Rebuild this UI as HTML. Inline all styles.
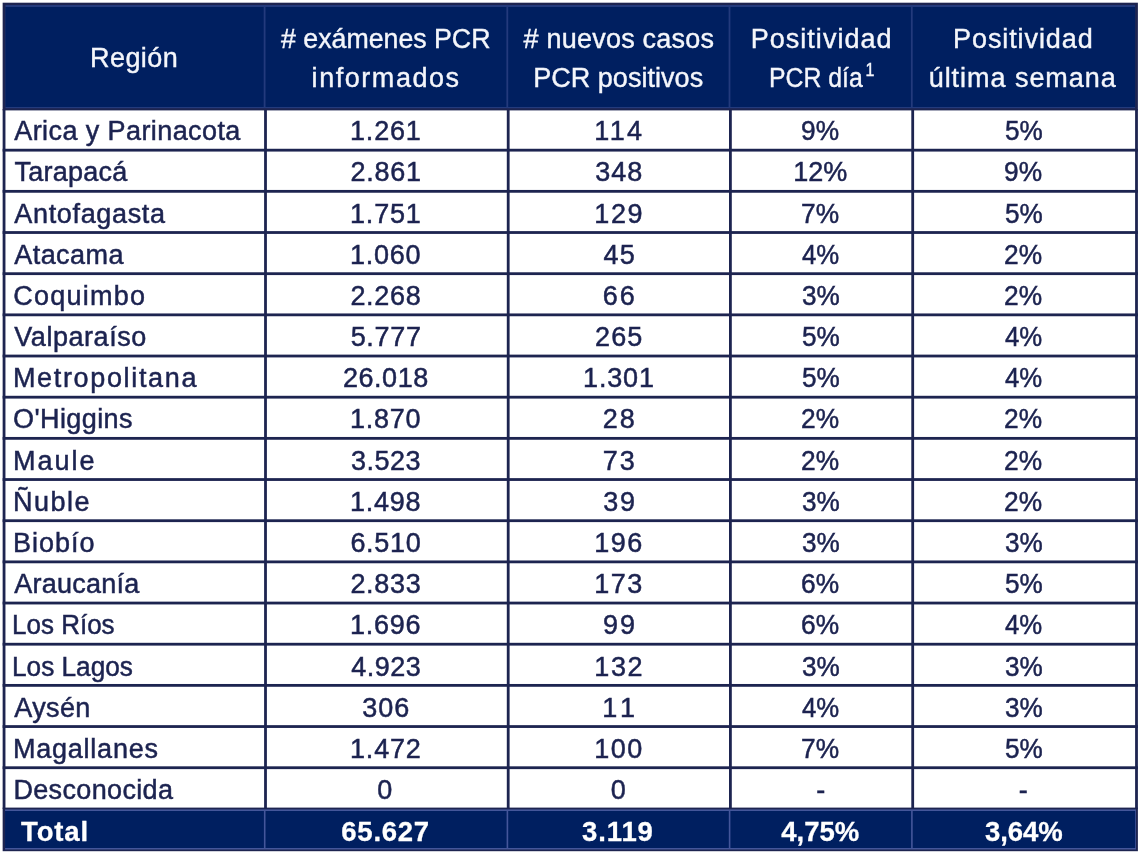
<!DOCTYPE html>
<html lang="es"><head><meta charset="utf-8"><title>Tabla PCR por región</title>
<style>
html,body{margin:0;padding:0;background:#fff;}
body{width:1140px;height:853px;position:relative;overflow:hidden;font-family:"Liberation Sans",sans-serif;}
svg{position:absolute;left:0;top:0;}
.t{position:absolute;white-space:pre;transform-origin:0 0;font-size:27px;line-height:40px;height:40px;color:#1c2350;-webkit-text-stroke:0.5px #1c2350;}
.h{color:#f4f6fb;-webkit-text-stroke:0.4px #f4f6fb;}
.b{font-weight:bold;color:#fff;-webkit-text-stroke:0.3px #fff;font-size:27.5px;}
sup{font-size:17.5px;line-height:0;vertical-align:baseline;position:relative;top:-11.4px;margin-left:3px;letter-spacing:0;}
</style></head><body>
<svg width="1140" height="853" viewBox="0 0 1140 853">
<rect x="2.65" y="2.7" width="1135.25" height="107.70" fill="#1d2450"/>
<rect x="5.45" y="5" width="1129.65" height="103.20" fill="#233a7c"/>
<rect x="5.45" y="7" width="258.25" height="100.00" fill="#001f60"/>
<rect x="265.50" y="7" width="240.90" height="100.00" fill="#001f60"/>
<rect x="508.20" y="7" width="220.40" height="100.00" fill="#001f60"/>
<rect x="730.40" y="7" width="180.50" height="100.00" fill="#001f60"/>
<rect x="912.70" y="7" width="222.40" height="100.00" fill="#001f60"/>
<rect x="2.65" y="807.6" width="1135.25" height="43.60" fill="#1d2450"/>
<rect x="5.05" y="809.4" width="1130.95" height="40.10" fill="#44569a"/>
<rect x="5.05" y="811" width="258.85" height="37" fill="#001f60"/>
<rect x="265.50" y="811" width="241.10" height="37" fill="#001f60"/>
<rect x="508.20" y="811" width="220.60" height="37" fill="#001f60"/>
<rect x="730.40" y="811" width="180.70" height="37" fill="#001f60"/>
<rect x="912.70" y="811" width="222.50" height="37" fill="#001f60"/>
<rect x="2.65" y="109.00" width="2.8" height="699.89" fill="#1d2450"/>
<rect x="264.10" y="109.00" width="2.8" height="699.89" fill="#1d2450"/>
<rect x="506.80" y="109.00" width="2.8" height="699.89" fill="#1d2450"/>
<rect x="729.00" y="109.00" width="2.8" height="699.89" fill="#1d2450"/>
<rect x="911.30" y="109.00" width="2.8" height="699.89" fill="#1d2450"/>
<rect x="1135.10" y="109.00" width="2.8" height="699.89" fill="#1d2450"/>
<rect x="2.65" y="148.77" width="1135.25" height="2.8" fill="#1d2450"/>
<rect x="2.65" y="189.94" width="1135.25" height="2.8" fill="#1d2450"/>
<rect x="2.65" y="231.11" width="1135.25" height="2.8" fill="#1d2450"/>
<rect x="2.65" y="272.28" width="1135.25" height="2.8" fill="#1d2450"/>
<rect x="2.65" y="313.45" width="1135.25" height="2.8" fill="#1d2450"/>
<rect x="2.65" y="354.62" width="1135.25" height="2.8" fill="#1d2450"/>
<rect x="2.65" y="395.79" width="1135.25" height="2.8" fill="#1d2450"/>
<rect x="2.65" y="436.96" width="1135.25" height="2.8" fill="#1d2450"/>
<rect x="2.65" y="478.13" width="1135.25" height="2.8" fill="#1d2450"/>
<rect x="2.65" y="519.30" width="1135.25" height="2.8" fill="#1d2450"/>
<rect x="2.65" y="560.47" width="1135.25" height="2.8" fill="#1d2450"/>
<rect x="2.65" y="601.64" width="1135.25" height="2.8" fill="#1d2450"/>
<rect x="2.65" y="642.81" width="1135.25" height="2.8" fill="#1d2450"/>
<rect x="2.65" y="683.98" width="1135.25" height="2.8" fill="#1d2450"/>
<rect x="2.65" y="725.15" width="1135.25" height="2.8" fill="#1d2450"/>
<rect x="2.65" y="766.32" width="1135.25" height="2.8" fill="#1d2450"/>
</svg>
<div role="table" aria-label="Exámenes PCR y positividad por región">
<!-- header -->
<div role="row">
<div id="h0" role="columnheader" class="t h" style="left:90.05px;top:38px;letter-spacing:0.41px;">Región</div>
<div id="h1a" role="columnheader" class="t h" style="left:281.30px;top:19px;transform:scaleX(0.990);"># exámenes PCR</div>
<div id="h1b" role="columnheader" class="t h" style="left:311.60px;top:58px;letter-spacing:1.55px;">informados</div>
<div id="h2a" role="columnheader" class="t h" style="left:523.45px;top:19px;letter-spacing:0.23px;"># nuevos casos</div>
<div id="h2b" role="columnheader" class="t h" style="left:533.15px;top:58px;letter-spacing:0.04px;">PCR positivos</div>
<div id="h3a" role="columnheader" class="t h" style="left:750.65px;top:19px;letter-spacing:1.04px;">Positividad</div>
<div id="h3b" role="columnheader" class="t h" style="left:768.55px;top:58px;transform:scaleX(0.918);">PCR día<sup>1</sup></div>
<div id="h4a" role="columnheader" class="t h" style="left:953.05px;top:19px;letter-spacing:0.91px;">Positividad</div>
<div id="h4b" role="columnheader" class="t h" style="left:928.70px;top:58px;letter-spacing:0.96px;">última semana</div>
</div>
<!-- body -->
<div role="row">
<div id="r0c0" role="cell" class="t" style="left:14.30px;top:111px;letter-spacing:0.41px;">Arica y Parinacota</div>
<div id="r0c1" role="cell" class="t" style="left:349.94px;top:111px;letter-spacing:0.84px;">1.261</div>
<div id="r0c2" role="cell" class="t" style="left:594.36px;top:111px;letter-spacing:2.36px;">114</div>
<div id="r0c3" role="cell" class="t" style="left:801.31px;top:111px;transform:scaleX(0.975);">9%</div>
<div id="r0c4" role="cell" class="t" style="left:1004.96px;top:111px;transform:scaleX(0.968);">5%</div>
</div>
<div role="row">
<div id="r1c0" role="cell" class="t" style="left:14.40px;top:152px;letter-spacing:0.27px;">Tarapacá</div>
<div id="r1c1" role="cell" class="t" style="left:350.44px;top:152px;letter-spacing:0.73px;">2.861</div>
<div id="r1c2" role="cell" class="t" style="left:595.36px;top:152px;letter-spacing:0.99px;">348</div>
<div id="r1c3" role="cell" class="t" style="left:793.26px;top:152px;">12%</div>
<div id="r1c4" role="cell" class="t" style="left:1003.96px;top:152px;transform:scaleX(0.975);">9%</div>
</div>
<div role="row">
<div id="r2c0" role="cell" class="t" style="left:14.30px;top:194px;letter-spacing:0.66px;">Antofagasta</div>
<div id="r2c1" role="cell" class="t" style="left:349.94px;top:194px;letter-spacing:0.84px;">1.751</div>
<div id="r2c2" role="cell" class="t" style="left:594.36px;top:194px;letter-spacing:1.61px;">129</div>
<div id="r2c3" role="cell" class="t" style="left:801.31px;top:194px;transform:scaleX(0.975);">7%</div>
<div id="r2c4" role="cell" class="t" style="left:1004.96px;top:194px;transform:scaleX(0.968);">5%</div>
</div>
<div role="row">
<div id="r3c0" role="cell" class="t" style="left:14.30px;top:235px;letter-spacing:0.43px;">Atacama</div>
<div id="r3c1" role="cell" class="t" style="left:349.94px;top:235px;letter-spacing:0.78px;">1.060</div>
<div id="r3c2" role="cell" class="t" style="left:603.42px;top:235px;letter-spacing:1.34px;">45</div>
<div id="r3c3" role="cell" class="t" style="left:802.31px;top:235px;transform:scaleX(0.954);">4%</div>
<div id="r3c4" role="cell" class="t" style="left:1003.96px;top:235px;transform:scaleX(0.975);">2%</div>
</div>
<div role="row">
<div id="r4c0" role="cell" class="t" style="left:13.15px;top:276px;letter-spacing:1.27px;">Coquimbo</div>
<div id="r4c1" role="cell" class="t" style="left:350.44px;top:276px;letter-spacing:0.66px;">2.268</div>
<div id="r4c2" role="cell" class="t" style="left:602.67px;top:276px;letter-spacing:2.09px;">66</div>
<div id="r4c3" role="cell" class="t" style="left:802.31px;top:276px;transform:scaleX(0.968);">3%</div>
<div id="r4c4" role="cell" class="t" style="left:1003.96px;top:276px;transform:scaleX(0.975);">2%</div>
</div>
<div role="row">
<div id="r5c0" role="cell" class="t" style="left:14.30px;top:317px;letter-spacing:0.54px;">Valparaíso</div>
<div id="r5c1" role="cell" class="t" style="left:350.69px;top:317px;letter-spacing:0.66px;">5.777</div>
<div id="r5c2" role="cell" class="t" style="left:595.11px;top:317px;letter-spacing:1.11px;">265</div>
<div id="r5c3" role="cell" class="t" style="left:802.31px;top:317px;transform:scaleX(0.968);">5%</div>
<div id="r5c4" role="cell" class="t" style="left:1004.96px;top:317px;transform:scaleX(0.954);">4%</div>
</div>
<div role="row">
<div id="r6c0" role="cell" class="t" style="left:12.90px;top:358px;letter-spacing:1.66px;">Metropolitana</div>
<div id="r6c1" role="cell" class="t" style="left:342.89px;top:358px;letter-spacing:0.57px;">26.018</div>
<div id="r6c2" role="cell" class="t" style="left:583.04px;top:358px;letter-spacing:0.84px;">1.301</div>
<div id="r6c3" role="cell" class="t" style="left:802.31px;top:358px;transform:scaleX(0.968);">5%</div>
<div id="r6c4" role="cell" class="t" style="left:1004.96px;top:358px;transform:scaleX(0.954);">4%</div>
</div>
<div role="row">
<div id="r7c0" role="cell" class="t" style="left:13.10px;top:399px;letter-spacing:0.40px;">O'Higgins</div>
<div id="r7c1" role="cell" class="t" style="left:349.94px;top:399px;letter-spacing:0.78px;">1.870</div>
<div id="r7c2" role="cell" class="t" style="left:602.67px;top:399px;letter-spacing:2.09px;">28</div>
<div id="r7c3" role="cell" class="t" style="left:801.31px;top:399px;transform:scaleX(0.975);">2%</div>
<div id="r7c4" role="cell" class="t" style="left:1003.96px;top:399px;transform:scaleX(0.975);">2%</div>
</div>
<div role="row">
<div id="r8c0" role="cell" class="t" style="left:12.90px;top:441px;letter-spacing:2.02px;">Maule</div>
<div id="r8c1" role="cell" class="t" style="left:350.94px;top:441px;letter-spacing:0.53px;">3.523</div>
<div id="r8c2" role="cell" class="t" style="left:602.67px;top:441px;letter-spacing:2.09px;">73</div>
<div id="r8c3" role="cell" class="t" style="left:801.31px;top:441px;transform:scaleX(0.975);">2%</div>
<div id="r8c4" role="cell" class="t" style="left:1003.96px;top:441px;transform:scaleX(0.975);">2%</div>
</div>
<div role="row">
<div id="r9c0" role="cell" class="t" style="left:12.90px;top:482px;letter-spacing:1.50px;">Ñuble</div>
<div id="r9c1" role="cell" class="t" style="left:349.94px;top:482px;letter-spacing:0.78px;">1.498</div>
<div id="r9c2" role="cell" class="t" style="left:603.17px;top:482px;letter-spacing:1.84px;">39</div>
<div id="r9c3" role="cell" class="t" style="left:802.31px;top:482px;transform:scaleX(0.968);">3%</div>
<div id="r9c4" role="cell" class="t" style="left:1003.96px;top:482px;transform:scaleX(0.975);">2%</div>
</div>
<div role="row">
<div id="r10c0" role="cell" class="t" style="left:12.90px;top:523px;letter-spacing:1.00px;">Biobío</div>
<div id="r10c1" role="cell" class="t" style="left:350.44px;top:523px;letter-spacing:0.66px;">6.510</div>
<div id="r10c2" role="cell" class="t" style="left:594.36px;top:523px;letter-spacing:1.49px;">196</div>
<div id="r10c3" role="cell" class="t" style="left:802.31px;top:523px;transform:scaleX(0.968);">3%</div>
<div id="r10c4" role="cell" class="t" style="left:1004.96px;top:523px;transform:scaleX(0.968);">3%</div>
</div>
<div role="row">
<div id="r11c0" role="cell" class="t" style="left:14.30px;top:564px;letter-spacing:0.25px;">Araucanía</div>
<div id="r11c1" role="cell" class="t" style="left:350.44px;top:564px;letter-spacing:0.66px;">2.833</div>
<div id="r11c2" role="cell" class="t" style="left:594.36px;top:564px;letter-spacing:1.49px;">173</div>
<div id="r11c3" role="cell" class="t" style="left:801.31px;top:564px;transform:scaleX(0.975);">6%</div>
<div id="r11c4" role="cell" class="t" style="left:1004.96px;top:564px;transform:scaleX(0.968);">5%</div>
</div>
<div role="row">
<div id="r12c0" role="cell" class="t" style="left:12.40px;top:605px;transform:scaleX(0.963);">Los Ríos</div>
<div id="r12c1" role="cell" class="t" style="left:349.94px;top:605px;letter-spacing:0.78px;">1.696</div>
<div id="r12c2" role="cell" class="t" style="left:602.92px;top:605px;letter-spacing:2.09px;">99</div>
<div id="r12c3" role="cell" class="t" style="left:801.31px;top:605px;transform:scaleX(0.975);">6%</div>
<div id="r12c4" role="cell" class="t" style="left:1004.96px;top:605px;transform:scaleX(0.954);">4%</div>
</div>
<div role="row">
<div id="r13c0" role="cell" class="t" style="left:12.40px;top:647px;transform:scaleX(0.970);">Los Lagos</div>
<div id="r13c1" role="cell" class="t" style="left:351.19px;top:647px;letter-spacing:0.48px;">4.923</div>
<div id="r13c2" role="cell" class="t" style="left:594.36px;top:647px;letter-spacing:1.61px;">132</div>
<div id="r13c3" role="cell" class="t" style="left:802.31px;top:647px;transform:scaleX(0.968);">3%</div>
<div id="r13c4" role="cell" class="t" style="left:1004.96px;top:647px;transform:scaleX(0.968);">3%</div>
</div>
<div role="row">
<div id="r14c0" role="cell" class="t" style="left:14.30px;top:688px;letter-spacing:0.37px;">Aysén</div>
<div id="r14c1" role="cell" class="t" style="left:362.26px;top:688px;letter-spacing:0.99px;">306</div>
<div id="r14c2" role="cell" class="t" style="left:602.17px;top:688px;letter-spacing:4.84px;">11</div>
<div id="r14c3" role="cell" class="t" style="left:802.31px;top:688px;transform:scaleX(0.954);">4%</div>
<div id="r14c4" role="cell" class="t" style="left:1004.96px;top:688px;transform:scaleX(0.968);">3%</div>
</div>
<div role="row">
<div id="r15c0" role="cell" class="t" style="left:12.90px;top:729px;letter-spacing:0.78px;">Magallanes</div>
<div id="r15c1" role="cell" class="t" style="left:349.94px;top:729px;letter-spacing:0.84px;">1.472</div>
<div id="r15c2" role="cell" class="t" style="left:594.36px;top:729px;letter-spacing:1.49px;">100</div>
<div id="r15c3" role="cell" class="t" style="left:801.31px;top:729px;transform:scaleX(0.975);">7%</div>
<div id="r15c4" role="cell" class="t" style="left:1004.96px;top:729px;transform:scaleX(0.968);">5%</div>
</div>
<div role="row">
<div id="r16c0" role="cell" class="t" style="left:13.40px;top:770px;letter-spacing:0.35px;">Desconocida</div>
<div id="r16c1" role="cell" class="t" style="left:377.37px;top:770px;letter-spacing:0.40px;">0</div>
<div id="r16c2" role="cell" class="t" style="left:610.72px;top:770px;letter-spacing:0.40px;">0</div>
<div id="r16c3" role="cell" class="t" style="left:816.15px;top:770px;letter-spacing:0.40px;">-</div>
<div id="r16c4" role="cell" class="t" style="left:1018.80px;top:770px;letter-spacing:0.40px;">-</div>
</div>
<!-- total -->
<div role="row">
<div id="t0" role="cell" class="t b" style="left:21.10px;top:812px;letter-spacing:0.84px;">Total</div>
<div id="t1" role="cell" class="t b" style="left:341.30px;top:812px;letter-spacing:0.75px;">65.627</div>
<div id="t2" role="cell" class="t b" style="left:582.00px;top:812px;letter-spacing:0.89px;">3.119</div>
<div id="t3" role="cell" class="t b" style="left:781.20px;top:812px;letter-spacing:0.03px;">4,75%</div>
<div id="t4" role="cell" class="t b" style="left:985.05px;top:812px;letter-spacing:-0.10px;">3,64%</div>
</div>
</div>
</body></html>
